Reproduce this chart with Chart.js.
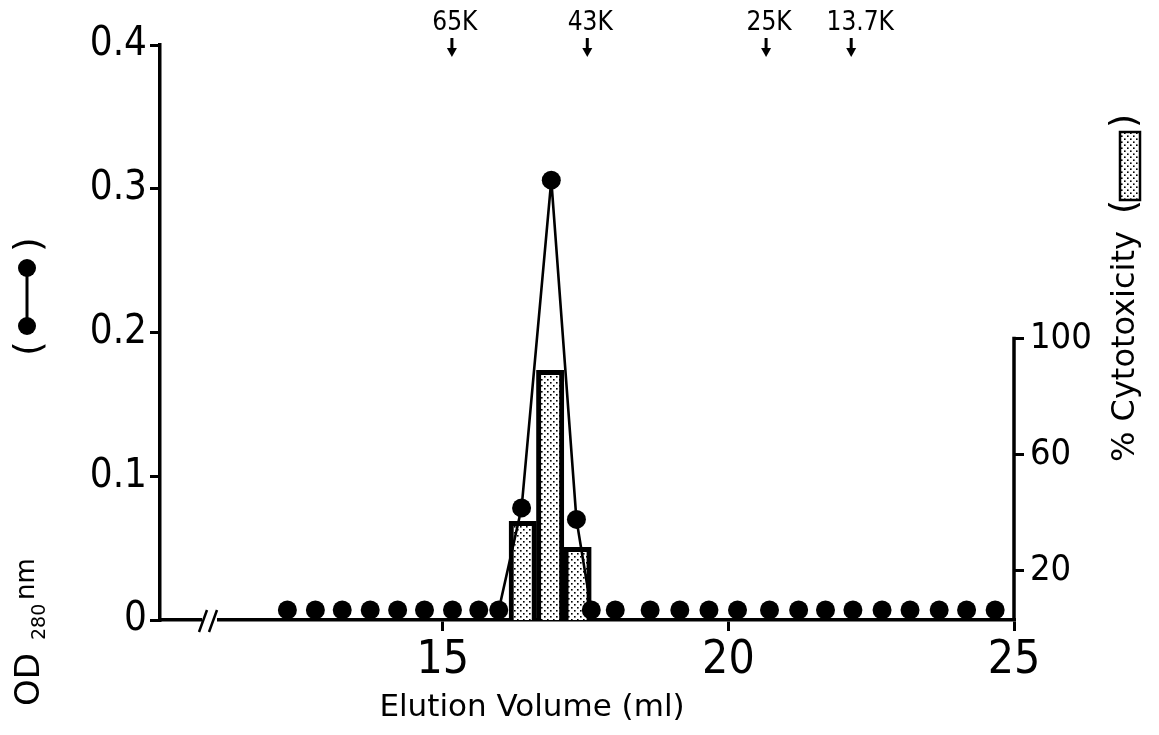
<!DOCTYPE html>
<html>
<head>
<meta charset="utf-8">
<script src="https://cdn.jsdelivr.net/npm/chart.js@4.4.1/dist/chart.umd.min.js"></script>
<style>
  html, body { margin: 0; padding: 0; background: #fff; }
</style>
</head>
<body>
<canvas id="myChart" width="1159" height="735"></canvas>
<script>
// Fractions: elution volume (ml) and OD 280nm reading
const odVolumes = [12.28, 12.77, 13.24, 13.73, 14.21, 14.68, 15.17, 15.63, 15.98,
  16.38, 16.90, 17.34,
  17.60, 18.02, 18.63, 19.15, 19.66, 20.16, 20.72, 21.23, 21.70, 22.18, 22.69, 23.18, 23.69, 24.17, 24.67];
const odValues = [0.007, 0.007, 0.007, 0.007, 0.007, 0.007, 0.007, 0.007, 0.007,
  0.078, 0.306, 0.070,
  0.007, 0.007, 0.007, 0.007, 0.007, 0.007, 0.007, 0.007, 0.007, 0.007, 0.007, 0.007, 0.007, 0.007, 0.007];

// % cytotoxicity of the active fractions (bars)
const cytoVolumes = [16.40, 16.88, 17.36];
const cytoValues = [37, 89, 28];

// tick labels
const xTicks = [15, 20, 25];
const yTicks = [0, 0.1, 0.2, 0.3, 0.4];
const y2Ticks = [20, 60, 100];

// molecular weight markers along the top
const mwLabels = ['65K', '43K', '25K', '13.7K'];
const mwVolumes = [15.16, 17.53, 20.66, 22.15];

const ctx = document.getElementById('myChart').getContext('2d');
const condensed = "'DejaVu Sans Condensed', 'DejaVu Sans', sans-serif";
const plain = "'DejaVu Sans', sans-serif";

// dotted fill used for the bars
function makeStipple(c2d) {
  const tile = document.createElement('canvas');
  tile.width = 6;
  tile.height = 6;
  const g = tile.getContext('2d');
  g.fillStyle = '#fff';
  g.fillRect(0, 0, 6, 6);
  g.fillStyle = '#000';
  g.fillRect(1, 1, 1.6, 1.6);
  g.fillRect(4, 4, 1.6, 1.6);
  return c2d.createPattern(tile, 'repeat');
}
const stipple = makeStipple(ctx);

const odPoints = odVolumes.map((v, i) => ({ x: v, y: odValues[i] }));
const cytoPoints = cytoVolumes.map((v, i) => ({ x: v, y: cytoValues[i] }));

// baseline dots are not joined by the line
const baseLevel = 0.02;

// axis break, right axis line, MW markers and axis titles
const decorations = {
  id: 'decorations',
  afterDraw(chart) {
    const g = chart.ctx;
    const xs = chart.scales.x;
    const y2 = chart.scales.y2;
    const area = chart.chartArea;
    g.save();

    // break on the x axis
    g.fillStyle = '#fff';
    g.fillRect(202, area.bottom - 4, 15, 8);
    g.strokeStyle = '#000';
    g.lineWidth = 2.5;
    g.beginPath();
    g.moveTo(199, area.bottom + 12); g.lineTo(207, area.bottom - 10);
    g.moveTo(209, area.bottom + 12); g.lineTo(217, area.bottom - 10);
    g.stroke();

    // right axis only runs up to 100 %
    const top100 = y2.getPixelForValue(100);
    g.lineWidth = 3.5;
    g.beginPath();
    g.moveTo(area.right, area.bottom);
    g.lineTo(area.right, top100 - 1.5);
    g.stroke();

    // molecular weight markers
    g.fillStyle = '#000';
    g.font = '26px ' + condensed;
    g.textAlign = 'center';
    g.textBaseline = 'middle';
    mwLabels.forEach((lab, i) => {
      const px = xs.getPixelForValue(mwVolumes[i]);
      g.fillText(lab, px + (lab.length > 3 ? 9 : 3), 23);
      g.lineWidth = 3;
      g.beginPath();
      g.moveTo(px, 38);
      g.lineTo(px, 50);
      g.stroke();
      g.beginPath();
      g.moveTo(px - 5, 48);
      g.lineTo(px + 5, 48);
      g.lineTo(px, 57);
      g.closePath();
      g.fill();
    });

    // x title
    g.font = '31px ' + plain;
    g.fillText('Elution Volume (ml)', 532, 708);

    // left title, rotated
    g.save();
    g.translate(30, 706);
    g.rotate(-Math.PI / 2);
    g.textAlign = 'left';
    g.textBaseline = 'middle';
    g.font = '34px ' + plain;
    g.fillText('OD', 0, 0);
    g.font = '19px ' + plain;
    g.fillText('280', 66, 10);
    g.font = '26px ' + plain;
    g.fillText('nm', 106, -3);
    g.font = '38px ' + plain;
    g.fillText('(', 350, 0);
    g.fillText(')', 454, 0);
    g.lineWidth = 3;
    g.beginPath();
    g.moveTo(380, -3);
    g.lineTo(438, -3);
    g.stroke();
    [380, 438].forEach(a => {
      g.beginPath();
      g.arc(a, -3, 9, 0, Math.PI * 2);
      g.fill();
    });
    g.restore();

    // right title, rotated
    g.save();
    g.translate(1126, 462);
    g.rotate(-Math.PI / 2);
    g.textAlign = 'left';
    g.textBaseline = 'middle';
    g.font = '32px ' + plain;
    g.fillText('% Cytotoxicity', 0, 0);
    g.font = '36px ' + plain;
    g.fillText('(', 248, 0);
    g.fillText(')', 334, 0);
    g.fillStyle = stipple;
    g.fillRect(262, -6, 68, 20);
    g.lineWidth = 2.5;
    g.strokeRect(262, -6, 68, 20);
    g.restore();

    g.restore();
  }
};

const chart = new Chart(ctx, {
  type: 'bar',
  data: {
    datasets: [
      {
        type: 'line',
        label: 'OD 280nm',
        data: odPoints,
        yAxisID: 'y',
        order: 0,
        borderColor: '#000',
        borderWidth: 2.6,
        pointRadius: 9.5,
        pointBackgroundColor: '#000',
        pointBorderWidth: 0,
        tension: 0,
        clip: false,
        segment: {
          borderColor: c => (c.p0.parsed.y < baseLevel && c.p1.parsed.y < baseLevel) ? 'rgba(0,0,0,0)' : '#000'
        }
      },
      {
        type: 'bar',
        label: '% Cytotoxicity',
        data: cytoPoints,
        yAxisID: 'y2',
        order: 1,
        backgroundColor: stipple,
        borderColor: '#000',
        borderWidth: 5,
        borderSkipped: 'bottom',
        barPercentage: 1,
        categoryPercentage: 1
      }
    ]
  },
  options: {
    responsive: false,
    animation: false,
    layout: { padding: { top: 45 } },
    plugins: {
      legend: { display: false },
      tooltip: { enabled: false }
    },
    scales: {
      x: {
        type: 'linear',
        min: 10.05,
        max: 25,
        offset: false,
        z: 1,
        afterBuildTicks: s => { s.ticks = xTicks.map(v => ({ value: v })); },
        afterFit: s => { s.height = 115; },
        grid: { display: true, offset: false, drawOnChartArea: false, drawTicks: true, tickLength: 11, color: '#000', lineWidth: 3 },
        border: { display: true, color: '#000', width: 3.5 },
        ticks: { color: '#000', font: { family: condensed, size: 46 }, padding: 2, maxRotation: 0, autoSkip: false, callback: v => String(v) }
      },
      y: {
        position: 'left',
        min: 0,
        max: 0.4,
        z: 1,
        afterBuildTicks: s => { s.ticks = yTicks.map(v => ({ value: v })); },
        afterFit: s => { s.width = 160; },
        grid: { display: true, drawOnChartArea: false, drawTicks: true, tickLength: 10, color: '#000', lineWidth: 3 },
        border: { display: true, color: '#000', width: 3.5 },
        ticks: { color: '#000', font: { family: condensed, size: 40 }, padding: 3, callback: v => v === 0 ? '0' : v.toFixed(1) }
      },
      y2: {
        position: 'right',
        min: 3,
        max: 201,
        z: 1,
        afterBuildTicks: s => { s.ticks = y2Ticks.map(v => ({ value: v })); },
        afterFit: s => { s.width = 145; },
        grid: { display: true, drawOnChartArea: false, drawTicks: true, tickLength: 10, color: '#000', lineWidth: 3 },
        border: { display: false },
        ticks: { color: '#000', font: { family: condensed, size: 36 }, padding: 6, callback: v => String(v) }
      }
    }
  },
  plugins: [decorations]
});
</script>
</body>
</html>
